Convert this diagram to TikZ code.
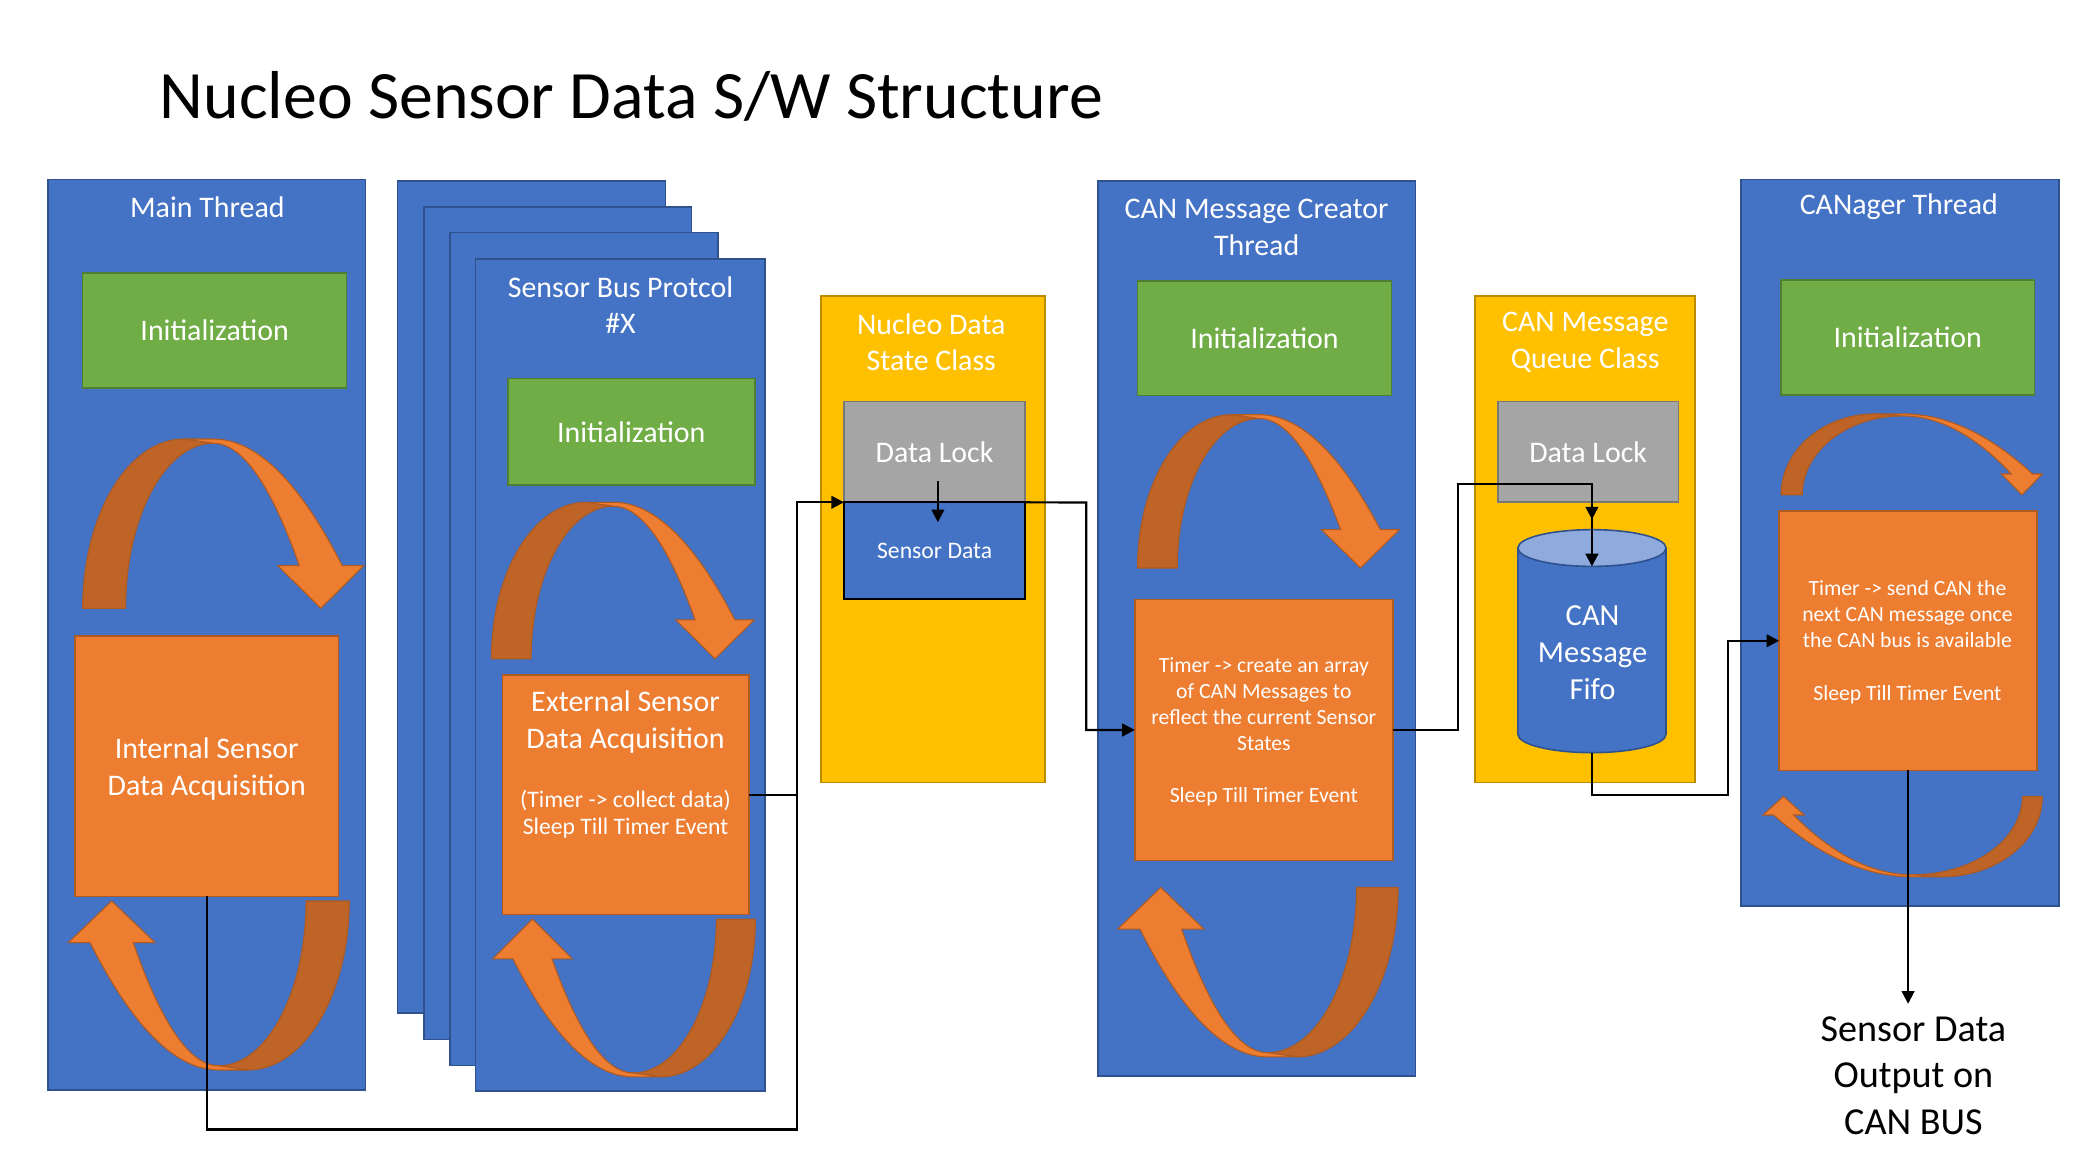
\documentclass[tikz,border=0pt]{standalone}
\usepackage{fontspec}
\setmainfont{Carlito}
\usetikzlibrary{arrows.meta}
\definecolor{blueF}{HTML}{4472C4}
\definecolor{blueD}{HTML}{2F528F}
\definecolor{greenF}{HTML}{70AD47}
\definecolor{greenD}{HTML}{507E32}
\definecolor{orangeF}{HTML}{ED7D31}
\definecolor{orangeD}{HTML}{AE5A21}
\definecolor{bandD}{HTML}{BE6427}
\definecolor{yellowF}{HTML}{FFC000}
\definecolor{yellowD}{HTML}{BC8C00}
\definecolor{grayF}{HTML}{A5A5A5}
\definecolor{grayD}{HTML}{787878}
\definecolor{cylTop}{HTML}{8FAADC}
\tikzset{
  basebox/.style={rectangle, anchor=north west, inner sep=0pt, outer sep=0pt, line width=1.2pt},
  bluebox/.style={basebox, fill=blueF, draw=blueD},
  greenbox/.style={basebox, fill=greenF, draw=greenD},
  orangebox/.style={basebox, fill=orangeF, draw=orangeD},
  yellowbox/.style={basebox, fill=yellowF, draw=yellowD},
  graybox/.style={basebox, fill=grayF, draw=grayD},
  datbox/.style={basebox, fill=blueF, draw=black, line width=1.8pt},
  lbl/.style={text=white, align=center, inner sep=0pt, font=\fontsize{22.5}{27.5}\selectfont},
  smalltxt/.style={text=white, align=center, inner sep=0pt, font=\fontsize{16.3}{19.6}\selectfont},
  conn/.style={draw=black, line width=1.6pt},
  arr/.style={conn, -{Triangle[length=9.5pt,width=9.5pt]}},
  darkband/.style={fill=bandD, draw=orangeD, line width=0.8pt},
  lightband/.style={fill=orangeF, draw=orangeD, line width=0.8pt},
}
% curved arrow in local frame: width, height, band thickness, head half width, head height
\newcommand\CurvArrow[5]{%
  \pgfmathsetmacro\caW{#1}%
  \pgfmathsetmacro\caH{#2}%
  \pgfmathsetmacro\caT{#3}%
  \pgfmathsetmacro\caHW{#4}%
  \pgfmathsetmacro\caHH{#5}%
  \pgfmathsetmacro\caA{0.465*\caW}%
  \pgfmathsetmacro\caAd{0.36*\caW}%
  \pgfmathsetmacro\caE{0.025*\caH}%
  \pgfmathsetmacro\caXt{\caW-\caHW}%
  \pgfmathsetmacro\caXo{\caXt+\caT/2}%
  \pgfmathsetmacro\caXi{\caXt-\caT/2}%
  \pgfmathsetmacro\caHb{\caH-\caHH}%
  \filldraw[darkband] (\caA,\caE) -- (\caAd,0)
    .. controls ({0.448*\caAd},0) and (0,{0.448*\caH}) .. (0,\caH)
    -- (\caT,\caH)
    .. controls (\caT,{\caH-0.552*(\caH-\caE)}) and ({\caA-0.552*(\caA-\caT)},\caE) .. (\caA,\caE) -- cycle;
  \filldraw[lightband] (\caAd,0) -- (\caA,0)
    .. controls ({\caA+(\caXo-\caA)/3},0) and ({\caXo-(\caXo-\caA)/3},{\caHb/3}) .. (\caXo,\caHb)
    -- (\caW,\caHb) -- (\caXt,\caH) -- ({\caXt-\caHW},\caHb) -- (\caXi,\caHb)
    .. controls ({\caXi-(\caXi-\caA)/3},{\caE+(\caHb-\caE)/3}) and ({\caA+(\caXi-\caA)/3},\caE) .. (\caA,\caE) -- cycle;
}
\begin{document}
\begin{tikzpicture}[x=1pt,y=-1pt]
\useasboundingbox[fill=white] (0,0) rectangle (1560,876);

% title
\node[anchor=base west, inner sep=0pt, font=\fontsize{51}{61}\selectfont] (title) at (120,89.3) {Nucleo Sensor Data S/W Structure};

% ---------- Main thread ----------
\node[bluebox, minimum width=239pt, minimum height=685pt] (mainT) at (36,135) {};
\node[lbl] (mainTl) at (156,155.5) {Main Thread};
\node[greenbox, minimum width=198.5pt, minimum height=86.6pt] (init1) at (62.2,205.2) {};
\node[lbl] at (init1.center) {Initialization};
\begin{scope}[shift={(62.2,330.2)}]\CurvArrow{211.4}{127.4}{32.3}{32.3}{32.1}\end{scope}
\node[orangebox, minimum width=198.5pt, minimum height=196pt] (intbox) at (56.2,478.3) {};
\node[lbl] (intl) at (155.5,578.5) {Internal Sensor\\Data Acquisition};
\begin{scope}[shift={(262.7,804.8)}, rotate=180]\CurvArrow{211.3}{127.1}{32.5}{32.6}{31.3}\end{scope}

% ---------- Sensor bus protocol stack ----------
\node[bluebox, minimum width=201.5pt, minimum height=626pt] (sb1) at (299,136) {};
\node[bluebox, minimum width=201pt, minimum height=626.5pt] (sb2) at (319,155.5) {};
\node[bluebox, minimum width=201.7pt, minimum height=626.3pt] (sb3) at (338.3,175) {};
\node[bluebox, minimum width=217.9pt, minimum height=626.2pt] (sb4) at (357.7,194.6) {};
\node[lbl] (sbl) at (466.7,229.5) {Sensor Bus Protcol\\\#X};
\node[greenbox, minimum width=185.7pt, minimum height=80.1pt] (init2) at (382,284.8) {};
\node[lbl] at (init2.center) {Initialization};
\begin{scope}[shift={(369.6,377.8)}]\CurvArrow{197.6}{117.8}{29.9}{29.4}{29.3}\end{scope}
\node[orangebox, minimum width=185.1pt, minimum height=180.1pt] (extbox) at (378.1,507.6) {};
\node[lbl] (extl1) at (470.5,543) {External Sensor\\Data Acquisition};
\node[smalltxt, font=\fontsize{17.8}{20.4}\selectfont] (extl2) at (470.5,612.5) {(Timer -> collect data)\\Sleep Till Timer Event};
\begin{scope}[shift={(568.2,810)}, rotate=180]\CurvArrow{197.6}{118.7}{29.4}{29.9}{29.9}\end{scope}

% ---------- Nucleo data state class ----------
\node[yellowbox, minimum width=168.6pt, minimum height=366.1pt] (nds) at (617.4,222.5) {};
\node[lbl] (ndsl) at (700.5,257.5) {Nucleo Data\\State Class};
\node[graybox, minimum width=136.3pt, minimum height=75.7pt] (dl1) at (634.8,302.1) {};
\node[lbl] at (dl1.center) {Data Lock};
\node[datbox, minimum width=136.3pt, minimum height=72.6pt] (sdata) at (634.8,377.8) {};
\node[smalltxt, font=\fontsize{17.8}{21}\selectfont] (sdatal) at (703,414) {Sensor Data};

% ---------- CAN message creator thread ----------
\node[bluebox, minimum width=238.8pt, minimum height=673.1pt] (crT) at (825.8,136) {};
\node[lbl] (crTl) at (945.2,171) {CAN Message Creator\\Thread};
\node[greenbox, minimum width=191.1pt, minimum height=86.2pt] (init3) at (855.6,211.4) {};
\node[lbl] at (init3.center) {Initialization};
\begin{scope}[shift={(855.6,311.9)}]\CurvArrow{197}{115.3}{29.9}{29.3}{28.8}\end{scope}
\node[orangebox, minimum width=194.1pt, minimum height=196.3pt] (crbox) at (853.6,450.9) {};
\node[smalltxt] (crl) at (950.6,550.5) {Timer -> create an array\\of CAN Messages to\\reflect the current Sensor\\States\\[19.6pt]Sleep Till Timer Event};
\begin{scope}[shift={(1051.6,795)}, rotate=180]\CurvArrow{210.9}{127.5}{31.3}{32.4}{31.3}\end{scope}

% ---------- CAN message queue class ----------
\node[yellowbox, minimum width=165.6pt, minimum height=366.1pt] (qc) at (1109.4,222.5) {};
\node[lbl] (qcl) at (1192.4,257.5) {CAN Message\\Queue Class};
\node[graybox, minimum width=135.9pt, minimum height=75.6pt] (dl2) at (1126.6,302.1) {};
\node[lbl] at (dl2.center) {Data Lock};
\node[rectangle, inner sep=0pt, outer sep=0pt, anchor=north west, minimum width=111.4pt, minimum height=140.1pt] (cyl) at (1141.7,412.2) {};
\filldraw[fill=blueF, draw=blueD, line width=1.2pt] (cyl.north west) -- (cyl.south west)
  arc[start angle=180, end angle=360, x radius=55.7pt, y radius=13.8pt] -- (cyl.north east) -- cycle;
\filldraw[fill=cylTop, draw=blueD, line width=1.2pt] (cyl.north) ellipse[x radius=55.7pt, y radius=13.8pt];
\node[lbl, font=\fontsize{23}{27.8}\selectfont] (cyll) at (1197.9,491) {CAN\\Message\\Fifo};

% ---------- CANager thread ----------
\node[bluebox, minimum width=239.2pt, minimum height=546.5pt] (cnT) at (1309.4,135) {};
\node[lbl] (cnTl) at (1428.2,155.5) {CANager Thread};
\node[greenbox, minimum width=190.5pt, minimum height=86.5pt] (init4) at (1339.7,210.5) {};
\node[lbl] at (init4.center) {Initialization};
\begin{scope}[shift={(1339.7,311.3)}]\CurvArrow{196.5}{60.9}{15.9}{15.4}{15.7}\end{scope}
\node[orangebox, minimum width=194pt, minimum height=194.9pt] (canbox) at (1338.2,384.5) {};
\node[smalltxt] (canl) at (1434.7,483) {Timer -> send CAN the\\next CAN message once\\the CAN bus is available\\[19.6pt]Sleep Till Timer Event};
\begin{scope}[shift={(1536.2,659.5)}, rotate=180]\CurvArrow{210.2}{60.5}{15}{15.5}{14}\end{scope}

% output text
\node[align=center, inner sep=0pt, font=\fontsize{28.7}{35}\selectfont] (outtxt) at (1439.2,809) {Sensor Data\\Output on\\CAN BUS};

% ---------- connectors ----------
\coordinate (jA) at (599.5,849.6);
\coordinate (jB) at (817,378);
\coordinate (jC) at (1096.9,364);
\coordinate (jD) at (1300,598);
\coordinate (outtip) at (1435.2,755);
\draw[arr] (intbox.south) |- (jA) |- (sdata.north west);
\draw[conn] (extbox.east) -- (extbox.east -| jA);
\draw[arr] ([xshift=2.5pt,yshift=16pt]dl1.south) -- ([xshift=2.5pt,yshift=-15pt]dl1.south);
\draw[arr] (sdata.north east) -- (jB) |- (crbox.west);
\draw[arr] (crbox.east) -| (jC) -- (jC -| cyl.north) -- ([yshift=-13.8pt]cyl.north);
\draw[arr] (jC -| cyl.north) -- ([yshift=-13pt]dl2.south -| cyl.north);
\draw[arr] ([yshift=-13.8pt]cyl.south) |- (jD) |- (canbox.west);
\draw[arr] (canbox.south) -- (canbox.south |- outtip);
\end{tikzpicture}
\end{document}
